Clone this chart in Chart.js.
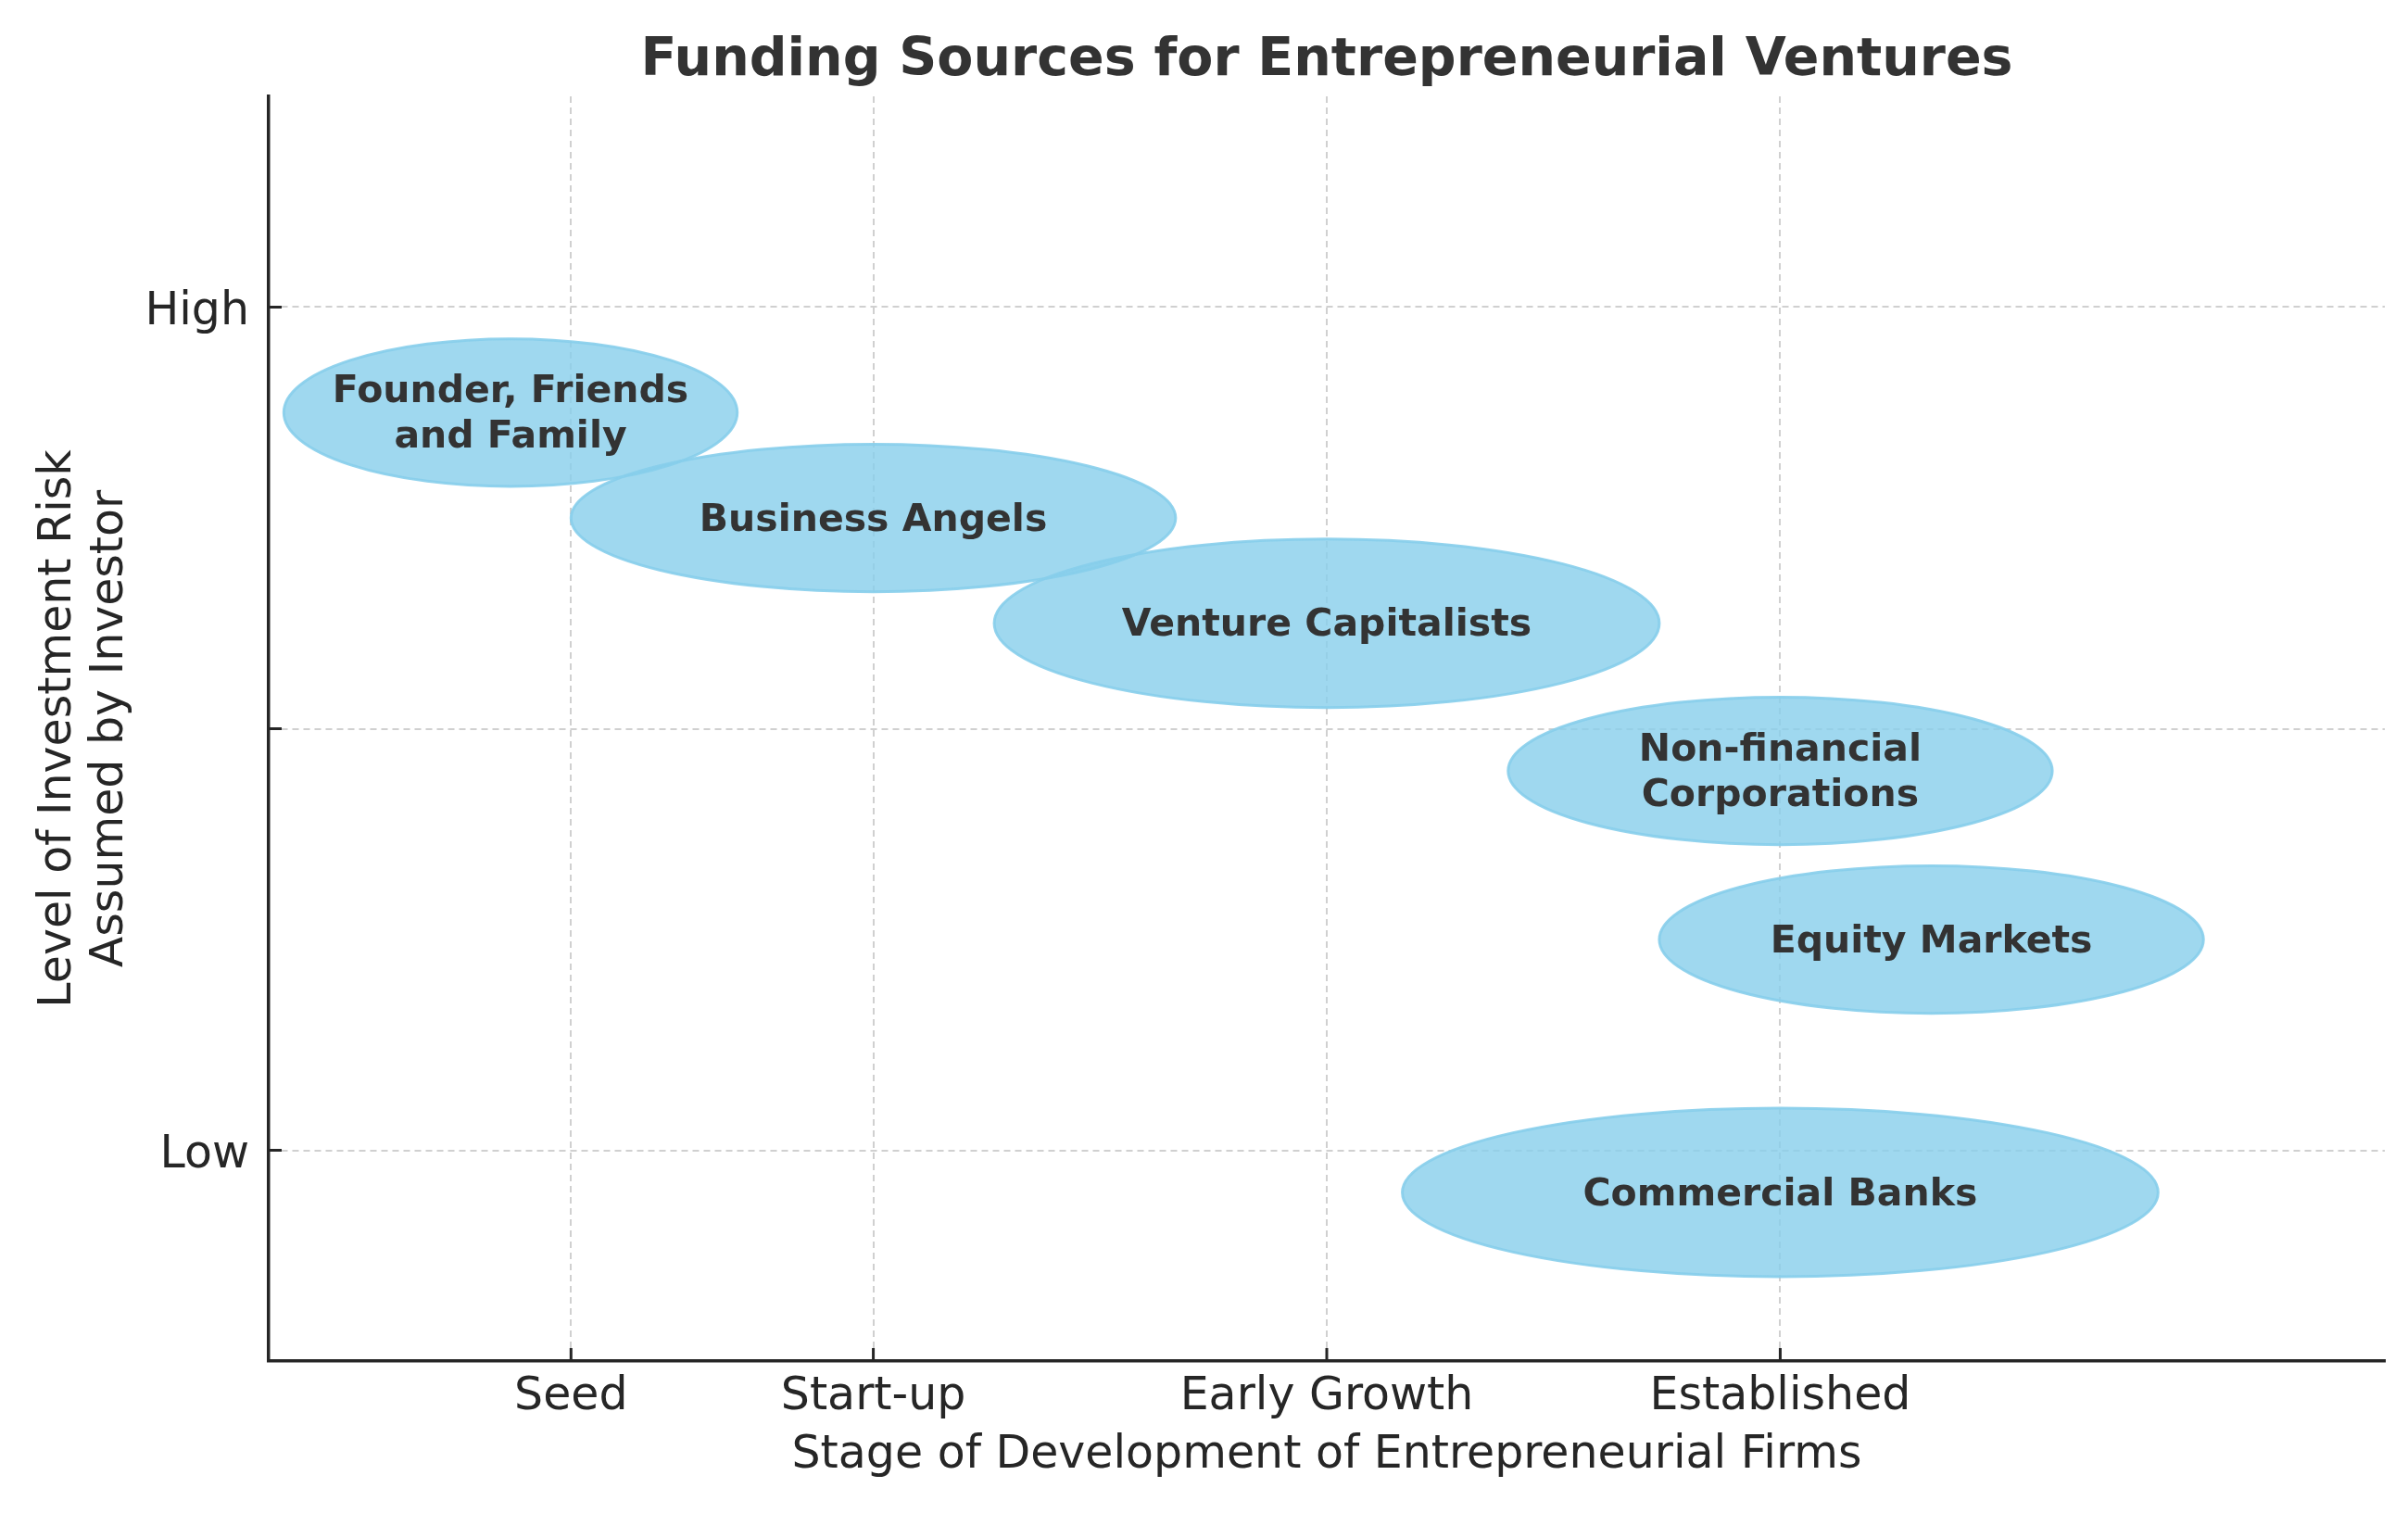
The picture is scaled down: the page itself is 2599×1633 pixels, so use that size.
<!DOCTYPE html>
<html>
<head>
<meta charset="utf-8">
<title>Funding Sources for Entrepreneurial Ventures</title>
<script src="https://cdn.jsdelivr.net/npm/chart.js@4.4.1/dist/chart.umd.min.js"></script>
<style>
  html, body { margin: 0; padding: 0; background: #fff; }
  #wrap { width: 2599px; height: 1633px; }
</style>
</head>
<body>
<div id="wrap"><canvas id="chart" width="2599" height="1633"></canvas></div>
<script>
/* ---- DATA ---- */
const stageTicks  = [1, 2, 3.5, 5];
const stageLabels = ['Seed', 'Start-up', 'Early Growth', 'Established'];
const riskTicks   = [1, 2, 3];
const riskLabels  = ['Low', '', 'High'];

const sourceNames = [
  ['Founder, Friends', 'and Family'],
  ['Business Angels'],
  ['Venture Capitalists'],
  ['Non-financial', 'Corporations'],
  ['Equity Markets'],
  ['Commercial Banks']
];
const sourceStage  = [0.8, 2, 3.5, 5, 5.5, 5];
const sourceRisk   = [2.75, 2.5, 2.25, 1.9, 1.5, 0.9];
const sourceSpanX  = [1.5, 2, 2.2, 1.8, 1.8, 2.5];
const sourceSpanY  = [0.35, 0.35, 0.4, 0.35, 0.35, 0.4];

const FONT = '"DejaVu Sans", sans-serif';
const INK  = '#262626';

/* ---- PLUGINS ---- */
// ellipses + their labels, sized through the scales
const ellipsePlugin = {
  id: 'ellipses',
  beforeDatasetsDraw(chart) {
    const { ctx, scales: { x, y } } = chart;
    ctx.save();
    sourceNames.forEach((lines, i) => {
      const cx = x.getPixelForValue(sourceStage[i]);
      const cy = y.getPixelForValue(sourceRisk[i]);
      const rx = Math.abs(x.getPixelForValue(sourceStage[i] + sourceSpanX[i] / 2) - cx);
      const ry = Math.abs(y.getPixelForValue(sourceRisk[i] + sourceSpanY[i] / 2) - cy);
      ctx.beginPath();
      ctx.ellipse(cx, cy, rx, ry, 0, 0, Math.PI * 2);
      ctx.fillStyle = 'rgba(135, 206, 235, 0.8)';
      ctx.fill();
      ctx.lineWidth = 3;
      ctx.strokeStyle = 'rgba(135, 206, 235, 0.9)';
      ctx.stroke();
    });
    ctx.fillStyle = '#333333';
    ctx.font = 'bold 41px ' + FONT;
    ctx.textAlign = 'center';
    ctx.textBaseline = 'middle';
    const lh = 49;
    sourceNames.forEach((lines, i) => {
      const cx = x.getPixelForValue(sourceStage[i]);
      const cy = y.getPixelForValue(sourceRisk[i]) + 3;
      const start = cy - (lines.length - 1) * lh / 2;
      lines.forEach((t, j) => ctx.fillText(t, cx, start + j * lh));
    });
    ctx.restore();
  }
};

// matplotlib style ticks pointing into the plot
const inTicksPlugin = {
  id: 'inTicks',
  afterDatasetsDraw(chart) {
    const { ctx, chartArea: a, scales: { x, y } } = chart;
    ctx.save();
    ctx.strokeStyle = INK;
    ctx.lineWidth = 3;
    ctx.beginPath();
    x.ticks.forEach(t => {
      const px = x.getPixelForValue(t.value);
      ctx.moveTo(px, a.bottom);
      ctx.lineTo(px, a.bottom - 14);
    });
    y.ticks.forEach(t => {
      const py = y.getPixelForValue(t.value);
      ctx.moveTo(a.left, py);
      ctx.lineTo(a.left + 14, py);
    });
    ctx.stroke();
    ctx.restore();
  }
};

/* ---- CHART ---- */
const points = sourceStage.map((v, i) => ({ x: v, y: sourceRisk[i] }));

new Chart(document.getElementById('chart'), {
  type: 'scatter',
  data: {
    datasets: [{
      label: 'Funding sources',
      data: points,
      pointRadius: 0,
      pointHoverRadius: 0
    }]
  },
  options: {
    responsive: false,
    animation: false,
    events: [],
    layout: { padding: { left: 0, right: 25, top: 0, bottom: 0 } },
    plugins: {
      legend: { display: false },
      tooltip: { enabled: false },
      title: {
        display: true,
        fullSize: false,
        text: 'Funding Sources for Entrepreneurial Ventures',
        color: '#333333',
        font: { family: FONT, size: 57, weight: 'bold', lineHeight: 1.2 },
        padding: { top: 32, bottom: 3.6 }
      }
    },
    scales: {
      x: {
        type: 'linear',
        min: 0,
        max: 7,
        afterBuildTicks: s => { s.ticks = stageTicks.map(v => ({ value: v })); },
        afterFit: s => { s.height = 164; },
        ticks: {
          autoSkip: false,
          maxRotation: 0,
          padding: 10,
          color: INK,
          font: { family: FONT, size: 49, lineHeight: 1.2 },
          callback: (v, i) => stageLabels[i]
        },
        grid: { color: '#d0d0d0', lineWidth: 2, drawTicks: false },
        border: { display: true, color: INK, width: 3.5, dash: [7, 5] },
        title: {
          display: true,
          text: 'Stage of Development of Entrepreneurial Firms',
          color: INK,
          font: { family: FONT, size: 49, lineHeight: 1.2 },
          padding: { top: 0, bottom: 32 }
        }
      },
      y: {
        type: 'linear',
        min: 0.5,
        max: 3.5,
        afterBuildTicks: s => { s.ticks = riskTicks.map(v => ({ value: v })); },
        afterFit: s => { s.width = 290; },
        ticks: {
          autoSkip: false,
          padding: 21,
          labelOffset: 6,
          color: INK,
          font: { family: FONT, size: 49, lineHeight: 1.2 },
          callback: (v, i) => riskLabels[i]
        },
        grid: { color: '#d0d0d0', lineWidth: 2, drawTicks: false },
        border: { display: true, color: INK, width: 3.5, dash: [7, 5] },
        title: {
          display: true,
          text: ['Level of Investment Risk', 'Assumed by Investor'],
          color: INK,
          font: { family: FONT, size: 49, lineHeight: 1.15 },
          padding: { top: 35, bottom: 0 }
        }
      }
    }
  },
  plugins: [ellipsePlugin, inTicksPlugin]
});
</script>
</body>
</html>
